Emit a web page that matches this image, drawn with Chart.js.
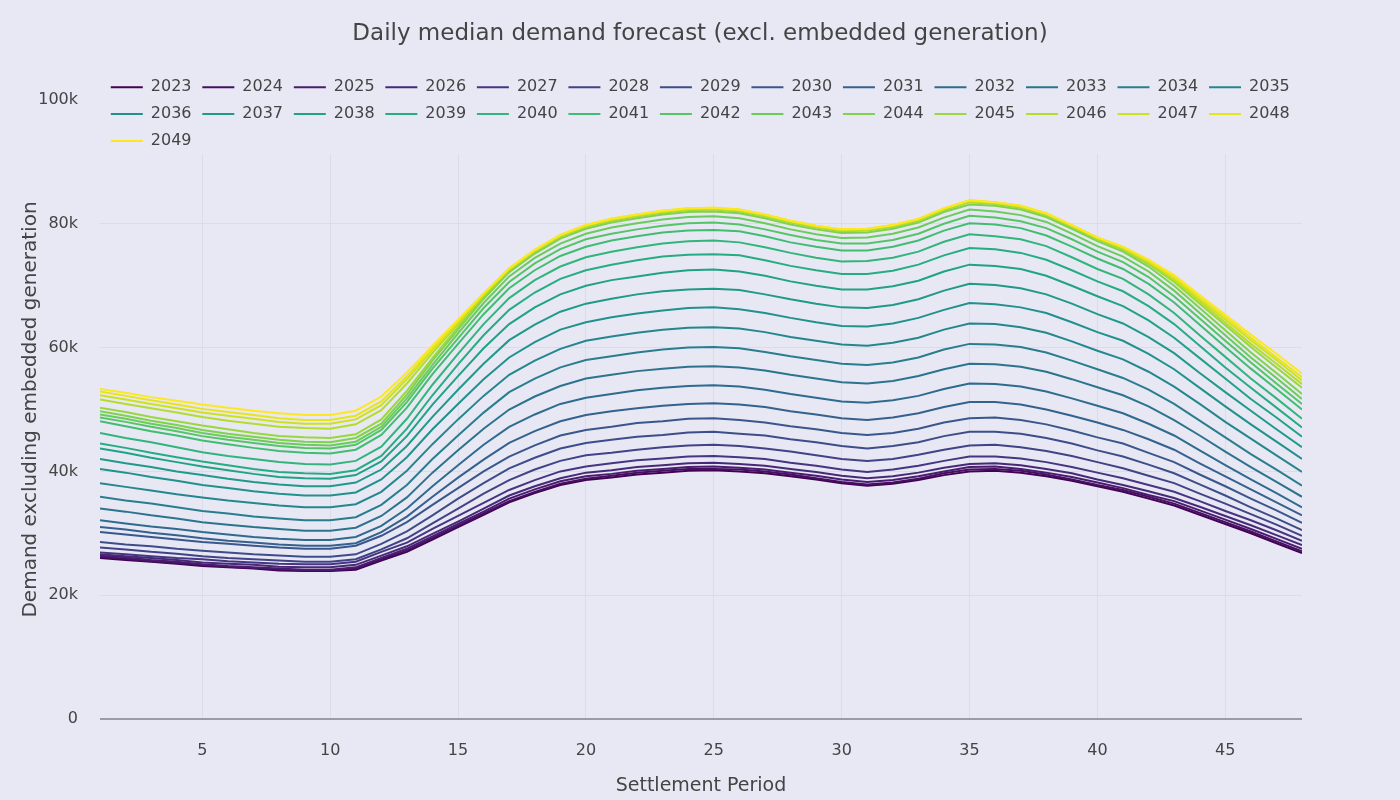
<!DOCTYPE html>
<html>
<head>
<meta charset="utf-8">
<script src="https://cdn.jsdelivr.net/npm/chart.js@4.4.1/dist/chart.umd.min.js"></script>
<style>
  html, body { margin: 0; padding: 0; background: #e8e7f4; }
  #grafico-wrap { width: 1400px; height: 800px; }
</style>
</head>
<body>
<div id="grafico-wrap"><canvas id="grafico" width="1400" height="800"></canvas></div>
<script>
const periodos = [1,2,3,4,5,6,7,8,9,10,11,12,13,14,15,16,17,18,19,20,21,22,23,24,25,26,27,28,29,30,31,32,33,34,35,36,37,38,39,40,41,42,43,44,45,46,47,48];

// demanda em milhares (k)
const y2023 = [26.0,25.7,25.4,25.1,24.7,24.5,24.3,24.0,23.9,23.9,24.1,25.6,27.0,29.0,31.0,33.0,35.0,36.5,37.8,38.6,39.0,39.5,39.8,40.1,40.2,40.0,39.7,39.2,38.7,38.1,37.7,38.0,38.6,39.4,40.0,40.1,39.8,39.2,38.5,37.6,36.7,35.6,34.5,33.0,31.5,30.0,28.4,26.8];
const y2024 = [26.2,25.9,25.5,25.2,24.9,24.6,24.4,24.2,24.0,24.0,24.3,25.8,27.2,29.2,31.2,33.2,35.2,36.7,38.0,38.8,39.3,39.8,40.1,40.4,40.4,40.3,40.0,39.5,38.9,38.3,37.9,38.2,38.8,39.7,40.3,40.4,40.1,39.5,38.7,37.8,37.0,35.9,34.8,33.3,31.8,30.3,28.7,27.1];
const y2025 = [26.4,26.1,25.7,25.4,25.0,24.7,24.5,24.3,24.1,24.1,24.5,26.0,27.5,29.5,31.5,33.5,35.6,37.1,38.4,39.2,39.6,40.1,40.4,40.7,40.8,40.6,40.3,39.8,39.3,38.7,38.3,38.6,39.2,40.0,40.7,40.8,40.4,39.8,39.1,38.2,37.3,36.2,35.2,33.7,32.2,30.7,29.1,27.5];
const y2026 = [26.6,26.3,26.0,25.7,25.3,25.1,24.9,24.6,24.5,24.5,24.9,26.4,27.9,29.9,31.9,34.0,36.1,37.6,38.9,39.8,40.2,40.7,41.0,41.3,41.4,41.2,40.9,40.4,39.9,39.3,38.9,39.2,39.8,40.6,41.2,41.3,41.0,40.4,39.7,38.7,37.8,36.8,35.7,34.3,32.8,31.3,29.7,28.1];
const y2027 = [26.9,26.6,26.3,26.0,25.8,25.5,25.3,25.1,25.0,25.0,25.4,27.0,28.5,30.7,32.8,34.9,37.0,38.6,40.0,40.8,41.3,41.8,42.1,42.4,42.5,42.3,42.0,41.4,40.9,40.3,39.9,40.3,40.9,41.7,42.4,42.4,42.1,41.5,40.7,39.8,38.9,37.8,36.7,35.2,33.6,32.1,30.5,28.8];
const y2028 = [27.7,27.4,27.0,26.7,26.3,26.0,25.8,25.6,25.4,25.4,25.8,27.4,29.2,31.6,34.0,36.4,38.6,40.3,41.7,42.6,43.0,43.5,43.9,44.2,44.3,44.1,43.7,43.2,42.6,42.0,41.7,42.0,42.7,43.5,44.2,44.3,43.9,43.3,42.5,41.5,40.5,39.3,38.1,36.4,34.8,33.1,31.4,29.6];
const y2029 = [28.6,28.2,27.9,27.5,27.2,26.9,26.6,26.4,26.2,26.2,26.6,28.3,30.3,32.9,35.6,38.1,40.5,42.2,43.7,44.6,45.1,45.6,45.9,46.3,46.4,46.1,45.8,45.2,44.7,44.1,43.7,44.1,44.7,45.7,46.4,46.4,46.1,45.4,44.5,43.4,42.4,41.1,39.7,37.9,36.1,34.2,32.4,30.5];
const y2030 = [30.2,29.8,29.4,29.0,28.6,28.3,28.0,27.7,27.5,27.5,28.0,29.6,31.8,34.6,37.3,40.0,42.4,44.2,45.8,46.7,47.2,47.8,48.1,48.5,48.6,48.3,47.9,47.3,46.8,46.2,45.9,46.2,46.9,47.9,48.6,48.7,48.3,47.6,46.6,45.5,44.5,43.0,41.5,39.5,37.6,35.6,33.7,31.7];
const y2031 = [31.0,30.6,30.1,29.7,29.2,28.8,28.5,28.2,28.0,28.0,28.4,30.2,32.7,35.9,39.0,41.9,44.6,46.5,48.1,49.1,49.7,50.2,50.6,50.9,51.0,50.8,50.4,49.7,49.2,48.6,48.3,48.7,49.4,50.4,51.2,51.2,50.8,50.0,49.0,47.9,46.7,45.2,43.5,41.3,39.2,37.1,35.0,32.9];
const y2032 = [32.1,31.6,31.1,30.7,30.2,29.8,29.4,29.1,28.9,28.9,29.4,31.2,34.0,37.6,41.0,44.3,47.2,49.2,50.9,51.9,52.5,53.1,53.5,53.8,53.9,53.7,53.2,52.5,51.9,51.3,51.1,51.5,52.2,53.3,54.2,54.1,53.7,52.9,51.8,50.6,49.4,47.7,45.8,43.4,41.0,38.7,36.5,34.2];
const y2033 = [34.0,33.5,32.9,32.4,31.8,31.4,31.0,30.7,30.4,30.4,30.9,32.8,35.8,39.8,43.4,46.9,50.0,52.1,53.8,55.0,55.6,56.2,56.6,56.9,57.0,56.8,56.3,55.6,55.0,54.4,54.2,54.6,55.4,56.5,57.4,57.3,56.9,56.1,54.9,53.6,52.3,50.5,48.3,45.8,43.2,40.7,38.3,35.9];
const y2034 = [35.9,35.3,34.8,34.2,33.6,33.2,32.7,32.4,32.1,32.1,32.6,34.6,37.8,42.0,45.8,49.5,52.8,55.0,56.8,58.0,58.6,59.2,59.7,60.0,60.1,59.9,59.3,58.6,58.0,57.4,57.2,57.6,58.4,59.7,60.6,60.5,60.1,59.2,57.9,56.5,55.1,53.2,50.9,48.2,45.5,42.8,40.3,37.7];
const y2035 = [38.1,37.5,36.9,36.3,35.8,35.3,34.9,34.5,34.2,34.2,34.7,36.7,40.1,44.4,48.4,52.2,55.6,57.9,59.8,61.1,61.8,62.4,62.9,63.2,63.3,63.1,62.5,61.7,61.1,60.5,60.3,60.8,61.6,62.9,63.9,63.8,63.3,62.4,61.0,59.5,58.1,56.1,53.7,50.9,48.0,45.3,42.6,39.9];
const y2036 = [40.4,39.8,39.1,38.5,37.8,37.3,36.8,36.4,36.1,36.1,36.6,38.7,42.3,46.8,50.9,54.9,58.4,60.9,62.9,64.1,64.9,65.5,66.0,66.4,66.5,66.2,65.6,64.8,64.1,63.5,63.4,63.9,64.8,66.1,67.2,67.0,66.5,65.6,64.1,62.5,61.1,59.0,56.5,53.5,50.5,47.6,44.8,42.0];
const y2037 = [42.0,41.3,40.7,40.0,39.4,38.8,38.3,37.9,37.6,37.6,38.2,40.3,44.1,48.8,53.2,57.4,61.2,63.7,65.8,67.1,67.9,68.6,69.1,69.4,69.5,69.3,68.6,67.8,67.1,66.5,66.4,66.9,67.8,69.2,70.3,70.1,69.6,68.6,67.1,65.4,63.9,61.7,59.1,55.9,52.8,49.8,46.8,43.9];
const y2038 = [43.7,43.0,42.2,41.5,40.8,40.2,39.6,39.1,38.9,38.8,39.4,41.6,45.7,50.8,55.4,59.9,63.8,66.5,68.6,70.0,70.9,71.5,72.1,72.5,72.6,72.3,71.6,70.7,70.0,69.4,69.4,69.9,70.8,72.3,73.4,73.2,72.7,71.6,70.0,68.3,66.7,64.4,61.6,58.3,55.0,51.7,48.7,45.6];
const y2039 = [44.5,43.8,43.0,42.3,41.6,41.0,40.4,39.9,39.7,39.6,40.2,42.5,46.9,52.3,57.3,62.0,66.1,68.9,71.1,72.5,73.4,74.1,74.7,75.0,75.1,74.9,74.1,73.2,72.5,71.9,71.9,72.4,73.4,74.9,76.1,75.9,75.3,74.2,72.5,70.7,69.1,66.7,63.8,60.3,56.8,53.5,50.3,47.1];
const y2040 = [46.2,45.4,44.7,43.9,43.1,42.5,42.0,41.5,41.2,41.1,41.7,44.0,48.5,54.0,59.0,63.8,68.0,70.9,73.1,74.6,75.5,76.2,76.8,77.2,77.3,77.0,76.2,75.3,74.5,73.9,74.0,74.5,75.5,77.1,78.3,78.0,77.5,76.4,74.6,72.7,71.1,68.6,65.6,62.0,58.5,55.0,51.8,48.5];
const y2041 = [48.1,47.3,46.5,45.8,45.0,44.4,43.8,43.3,43.0,42.9,43.5,45.9,50.3,55.7,60.6,65.4,69.6,72.5,74.8,76.3,77.3,78.0,78.6,78.9,79.0,78.8,78.0,77.0,76.3,75.7,75.7,76.3,77.3,78.9,80.1,79.9,79.3,78.1,76.3,74.4,72.7,70.3,67.3,63.7,60.1,56.6,53.3,50.0];
const y2042 = [48.7,48.0,47.2,46.5,45.7,45.1,44.6,44.1,43.8,43.7,44.3,46.7,51.2,56.6,61.5,66.4,70.6,73.6,75.9,77.5,78.4,79.1,79.7,80.1,80.2,79.9,79.1,78.2,77.4,76.8,76.8,77.4,78.4,80.0,81.3,81.0,80.4,79.3,77.5,75.5,73.8,71.4,68.3,64.7,61.1,57.6,54.2,50.9];
const y2043 = [49.2,48.5,47.7,47.0,46.2,45.6,45.1,44.6,44.3,44.2,44.8,47.2,51.8,57.2,62.3,67.2,71.5,74.5,76.8,78.4,79.4,80.1,80.7,81.1,81.2,80.9,80.1,79.1,78.3,77.7,77.8,78.4,79.4,81.0,82.3,82.0,81.4,80.3,78.4,76.4,74.7,72.3,69.2,65.6,62.0,58.4,55.1,51.7];
const y2044 = [49.7,49.0,48.2,47.5,46.7,46.1,45.6,45.1,44.8,44.7,45.4,47.7,52.4,57.9,62.9,67.9,72.2,75.2,77.6,79.2,80.2,80.9,81.5,81.9,82.0,81.7,80.9,79.9,79.1,78.5,78.6,79.2,80.2,81.9,83.1,82.9,82.3,81.1,79.2,77.2,75.5,73.1,70.0,66.4,62.8,59.2,55.9,52.5];
const y2045 = [50.3,49.6,48.8,48.1,47.4,46.8,46.2,45.7,45.5,45.4,46.0,48.4,53.0,58.3,63.3,68.2,72.5,75.5,77.9,79.5,80.5,81.2,81.8,82.2,82.3,82.0,81.2,80.2,79.4,78.8,78.9,79.5,80.5,82.2,83.5,83.2,82.6,81.4,79.5,77.5,75.8,73.5,70.6,67.1,63.6,60.1,56.8,53.5];
const y2046 = [51.6,50.9,50.2,49.5,48.8,48.2,47.7,47.2,47.0,46.9,47.6,49.9,54.2,59.1,63.8,68.4,72.6,75.6,78.0,79.6,80.6,81.3,81.9,82.3,82.4,82.1,81.3,80.3,79.5,78.9,79.0,79.6,80.6,82.3,83.6,83.3,82.7,81.5,79.6,77.6,76.0,73.7,70.9,67.5,64.0,60.6,57.4,54.1];
const y2047 = [52.3,51.6,50.9,50.2,49.5,49.0,48.5,48.0,47.7,47.7,48.4,50.7,54.9,59.6,64.1,68.6,72.7,75.7,78.1,79.7,80.7,81.4,82.0,82.4,82.5,82.2,81.4,80.4,79.6,79.0,79.1,79.7,80.7,82.4,83.7,83.4,82.8,81.6,79.7,77.7,76.1,73.9,71.2,67.8,64.5,61.2,58.0,54.7];
const y2048 = [52.9,52.2,51.5,50.8,50.1,49.6,49.1,48.6,48.3,48.3,49.0,51.3,55.4,59.9,64.3,68.7,72.8,75.8,78.2,79.8,80.8,81.5,82.1,82.5,82.6,82.3,81.5,80.5,79.7,79.1,79.2,79.8,80.8,82.5,83.8,83.5,82.9,81.7,79.8,77.8,76.2,74.0,71.4,68.1,64.9,61.6,58.4,55.2];
const y2049 = [53.3,52.7,52.0,51.4,50.8,50.3,49.8,49.4,49.1,49.1,49.8,52.1,56.0,60.3,64.5,68.8,72.8,75.8,78.2,79.8,80.8,81.5,82.1,82.5,82.6,82.3,81.5,80.5,79.7,79.1,79.2,79.8,80.8,82.5,83.8,83.5,82.9,81.7,79.8,77.8,76.3,74.2,71.7,68.5,65.3,62.1,59.0,55.8];

const anos = ['2023','2024','2025','2026','2027','2028','2029','2030','2031','2032','2033','2034','2035','2036','2037','2038','2039','2040','2041','2042','2043','2044','2045','2046','2047','2048','2049'];
const series = [y2023,y2024,y2025,y2026,y2027,y2028,y2029,y2030,y2031,y2032,y2033,y2034,y2035,y2036,y2037,y2038,y2039,y2040,y2041,y2042,y2043,y2044,y2045,y2046,y2047,y2048,y2049];

const ticksY = [0, 20, 40, 60, 80, 100];

const fundo = '#e8e7f4';
const corTexto = '#444444';
const corGrade = '#dcdbea';
const fonte = 'DejaVu Sans';

// paleta viridis
const viridis = ['#440154','#471365','#482475','#463480','#414487','#3b528b','#355f8d','#2f6c8e','#2a788e','#25848e','#21918c','#1e9c89','#22a884','#2fb47c','#44bf70','#5ec962','#7ad151','#9bd93c','#bddf26','#dfe318','#fde725'];

function hexParaRgb(hex) {
  return [parseInt(hex.slice(1, 3), 16), parseInt(hex.slice(3, 5), 16), parseInt(hex.slice(5, 7), 16)];
}

function corViridis(t) {
  const pos = t * (viridis.length - 1);
  const i = Math.min(Math.floor(pos), viridis.length - 2);
  const f = pos - i;
  const a = hexParaRgb(viridis[i]);
  const b = hexParaRgb(viridis[i + 1]);
  const c = a.map((v, k) => Math.round(v + (b[k] - v) * f));
  return `rgb(${c[0]}, ${c[1]}, ${c[2]})`;
}

// legenda sobreposta ao topo da area do grafico, com fundo opaco cobrindo a grade
const fundoLegenda = {
  id: 'fundoLegenda',
  afterInit(chart) {
    const legenda = chart.legend;
    const fitOriginal = legenda.fit;
    const drawOriginal = legenda.draw;
    legenda.fit = function () {
      fitOriginal.call(this);
      this.height = 31.5;
    };
    legenda.draw = function () {};
    legenda.desenhar = function () {
      const bottom = this.bottom;
      const height = this.height;
      this.bottom = this.top + 120;
      this.height = 120;
      drawOriginal.call(this);
      this.bottom = bottom;
      this.height = height;
    };
  },
  beforeDatasetsDraw(chart) {
    const { ctx, chartArea } = chart;
    ctx.save();
    ctx.fillStyle = fundo;
    ctx.fillRect(chartArea.left, chartArea.top - 2, chartArea.right - chartArea.left, 56);
    ctx.restore();
    chart.legend.desenhar();
  }
};

const datasets = series.map((valores, i) => {
  const cor = corViridis(i / (series.length - 1));
  return {
    label: anos[i],
    data: valores,
    borderColor: cor,
    backgroundColor: cor,
    borderWidth: 2,
    pointRadius: 0,
    tension: 0,
    order: series.length - i
  };
});

const ctx = document.getElementById('grafico').getContext('2d');
new Chart(ctx, {
  type: 'line',
  data: {
    labels: periodos,
    datasets: datasets
  },
  plugins: [fundoLegenda],
  options: {
    responsive: false,
    animation: false,
    events: [],
    layout: { padding: 0 },
    plugins: {
      title: {
        display: true,
        text: 'Daily median demand forecast (excl. embedded generation)',
        color: corTexto,
        font: { family: fonte, size: 23, weight: 'normal' },
        padding: { top: 20.2, bottom: 20.7 }
      },
      legend: {
        position: 'top',
        align: 'start',
        fullSize: false,
        labels: {
          color: corTexto,
          font: { family: fonte, size: 16 },
          usePointStyle: true,
          pointStyle: 'line',
          pointStyleWidth: 32,
          padding: 10.8,
          sort: (a, b) => a.datasetIndex - b.datasetIndex
        }
      },
      tooltip: { enabled: false }
    },
    scales: {
      x: {
        type: 'linear',
        min: 1,
        max: 48,
        afterFit(escala) { escala.height = 81; },
        afterBuildTicks(escala) {
          escala.ticks = escala.ticks.filter(t => t.value % 5 === 0);
        },
        grid: { color: corGrade, drawTicks: false },
        border: { display: false },
        ticks: {
          color: corTexto,
          padding: 22,
          font: { family: fonte, size: 16 },
          stepSize: 5
        },
        title: {
          display: true,
          text: 'Settlement Period',
          color: corTexto,
          font: { family: fonte, size: 19 },
          padding: { top: 0, bottom: 3 }
        }
      },
      y: {
        min: 0,
        max: 100,
        afterFit(escala) { escala.width = 100; },
        afterBuildTicks(escala) {
          escala.ticks = ticksY.map(v => ({ value: v }));
        },
        grid: {
          drawTicks: false,
          color: c => c.tick && c.tick.value === 0 ? '#9b9ba6' : corGrade,
          lineWidth: c => c.tick && c.tick.value === 0 ? 2 : 1
        },
        border: { display: false },
        ticks: {
          color: corTexto,
          padding: 22,
          font: { family: fonte, size: 16 },
          callback: v => v === 0 ? '0' : v + 'k'
        },
        title: {
          display: true,
          text: 'Demand excluding embedded generation',
          color: corTexto,
          font: { family: fonte, size: 20 },
          padding: { top: 19, bottom: 0 }
        }
      },
      // eixo vazio a direita so para reservar a margem
      margemDireita: {
        position: 'right',
        display: true,
        afterFit(escala) { escala.width = 98; },
        grid: { display: false },
        border: { display: false },
        ticks: { display: false }
      }
    }
  }
});
</script>
</body>
</html>
